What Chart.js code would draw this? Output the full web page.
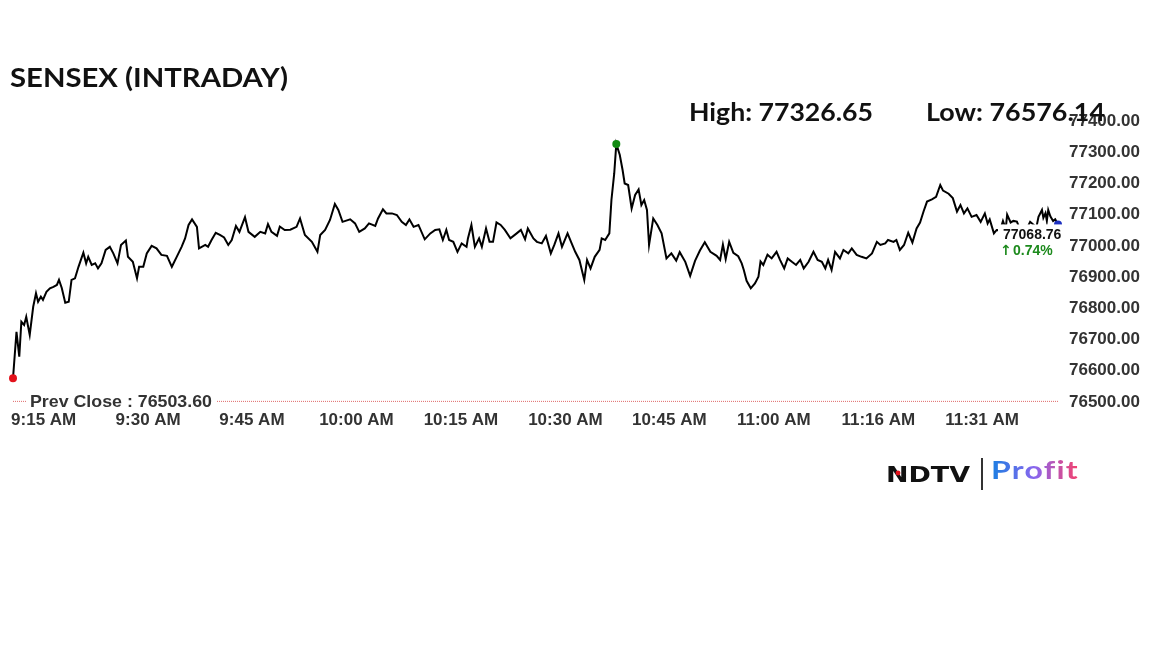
<!DOCTYPE html>
<html>
<head>
<meta charset="utf-8">
<script src="https://cdn.jsdelivr.net/npm/chart.js@4.4.1/dist/chart.umd.min.js"></script>
<style>
  html, body { margin: 0; padding: 0; background: #fff; }
  canvas { display: block; }
</style>
</head>
<body>
<canvas id="sensexChart" width="1152" height="648"></canvas>
<script>
// minutes after 9:15 AM
const times = [
  0, 0.5, 0.9, 1.2, 1.6, 1.9, 2.4, 2.9, 3.3, 3.6,
  4.0, 4.3, 4.8, 5.3, 5.8, 6.3, 6.6, 7.0, 7.5, 8.0,
  8.4, 8.9, 9.4, 10.1, 10.5, 10.8, 11.3, 11.8, 12.2, 12.7,
  13.3, 13.9, 14.4, 15.0, 15.5, 16.2, 16.5, 17.2, 17.8, 18.1,
  18.7, 19.2, 19.9, 20.6, 21.3, 22.1, 22.8, 23.5, 24.2, 24.7,
  25.2, 25.7, 26.4, 26.7, 27.6, 28.0, 28.5, 29.1, 29.7, 30.3,
  30.9, 31.4, 32.0, 32.5, 33.3, 33.8, 34.7, 35.5, 36.2, 36.6,
  37.1, 37.9, 38.3, 39.0, 39.8, 40.7, 41.2, 41.9, 42.9, 43.7,
  44.1, 44.8, 45.5, 46.2, 46.7, 47.3, 48.4, 49.1, 49.7, 50.5,
  51.1, 52.0, 52.4, 53.1, 53.6, 54.4, 55.1, 55.8, 56.4, 56.9,
  57.5, 58.2, 59.1, 59.9, 60.6, 61.2, 61.7, 62.2, 62.6, 63.2,
  63.8, 64.4, 65.1, 65.3, 65.8, 66.3, 66.9, 67.3, 67.9, 68.4,
  68.9, 69.4, 70.0, 70.6, 71.4, 72.3, 72.9, 73.5, 73.9, 74.7,
  75.2, 75.9, 76.5, 77.2, 77.7, 78.3, 78.8, 79.6, 80.1, 80.7,
  81.3, 82.0, 82.4, 82.9, 83.5, 84.2, 84.5, 85.0, 85.6, 85.9,
  86.3, 86.6, 87.1, 87.5, 87.8, 88.3, 88.8, 89.3, 89.8, 90.2,
  90.6, 91.0, 91.3, 91.9, 92.5, 93.1, 93.8, 94.5, 95.2, 95.7,
  96.5, 97.2, 97.9, 98.6, 99.3, 100.1, 101.0, 101.5, 101.9, 102.3,
  102.8, 103.4, 104.1, 104.6, 104.9, 105.3, 105.9, 106.5, 107.0, 107.3,
  107.7, 108.3, 108.9, 109.6, 110.1, 110.7, 111.2, 111.8, 112.4, 113.0,
  113.5, 114.2, 114.9, 115.5, 116.1, 116.6, 117.0, 117.5, 118.0, 118.7,
  119.2, 119.9, 120.4, 121.1, 121.8, 122.5, 123.3, 124.0, 124.5, 125.2,
  125.6, 126.4, 126.8, 127.3, 127.9, 128.5, 129.1, 129.7, 130.2, 130.7,
  131.2, 131.9, 132.5, 133.1, 133.5, 134.3, 134.9, 135.5, 136.0, 136.5,
  137.0, 137.6, 138.3, 138.9, 139.5, 139.9, 140.2, 140.8, 141.2, 141.7,
  142.1, 142.5, 142.7, 143.2, 143.6, 144.1, 144.6, 145.3, 146.0, 146.9,
  147.2, 147.7, 147.9, 148.2, 148.4, 148.6, 148.9, 149.3, 149.6, 150.0
];

const sensex = [
  76576.14, 76725, 76645, 76757, 76747, 76773, 76715, 76805, 76848, 76821,
  76837, 76827, 76853, 76864, 76869, 76875, 76891, 76865, 76818, 76821,
  76891, 76896, 76933, 76978, 76944, 76965, 76939, 76944, 76928, 76944,
  76987, 76997, 76976, 76944, 77003, 77017, 76965, 76949, 76896, 76933,
  76933, 76976, 77000, 76992, 76971, 76968, 76933, 76965, 76997, 77024,
  77067, 77085, 77061, 76992, 77003, 76997, 77019, 77042, 77035, 77027,
  77003, 77019, 77064, 77045, 77092, 77045, 77029, 77045, 77040, 77070,
  77045, 77032, 77062, 77051, 77052, 77061, 77088, 77035, 77013, 76981,
  77035, 77051, 77083, 77134, 77115, 77077, 77085, 77072, 77045, 77056,
  77072, 77064, 77088, 77117, 77104, 77104, 77099, 77077, 77067, 77085,
  77061, 77067, 77021, 77040, 77051, 77053, 77019, 77051, 77019, 77013,
  76981, 77008, 76997, 77024, 77067, 76997, 77024, 76997, 77056, 77013,
  77013, 77075, 77067, 77051, 77024, 77040, 77051, 77021, 77056, 77024,
  77013, 77008, 77032, 76976, 77003, 77040, 76997, 77040, 77013, 76981,
  76955, 76891, 76955, 76928, 76965, 76987, 77024, 77019, 77040, 77147,
  77232, 77326.65, 77291, 77243, 77200, 77195, 77120, 77163, 77181, 77131,
  77147, 77115, 77003, 77088, 77067, 77040, 76960, 76976, 76953, 76980,
  76949, 76904, 76952, 76985, 77012, 76981, 76968, 76955, 77004, 76958,
  77013, 76978, 76967, 76944, 76923, 76888, 76864, 76880, 76901, 76950,
  76939, 76972, 76960, 76981, 76955, 76928, 76960, 76949, 76939, 76955,
  76928, 76949, 76981, 76955, 76949, 76928, 76955, 76923, 76981, 76960,
  76987, 76976, 76992, 76971, 76965, 76960, 76976, 77013, 77003, 77008,
  77019, 77013, 77019, 76987, 77003, 77042, 77011, 77056, 77075, 77110,
  77142, 77149, 77157, 77195, 77177, 77167, 77153, 77110, 77131, 77104,
  77120, 77093, 77099, 77077, 77104, 77072, 77085, 77040, 77051, 77050,
  77080, 77055, 77100, 77075, 77080, 77078, 77050, 77045, 77077, 77060,
  77093, 77115, 77090, 77105, 77080, 77115, 77095, 77080, 77085, 77068.76
];

// подписи оси времени (позиции в минутах от 9:15)
const xTickMinutes = [4.4, 19.4, 34.3, 49.3, 64.3, 79.3, 94.2, 109.2, 124.2, 139.1];
const xTickLabels = ['9:15 AM', '9:30 AM', '9:45 AM', '10:00 AM', '10:15 AM', '10:30 AM', '10:45 AM', '11:00 AM', '11:16 AM', '11:31 AM'];

const prevClose = 76503.60;
const dayHigh = 77326.65;
const dayLow = 76576.14;
const changePct = 0.74;

const lastIdx = sensex.length - 1;
const highIdx = sensex.indexOf(Math.max(...sensex));

// рисуем текст, подгоняя ширину под нужную
function fitText(ctx, text, x, y, width, makeFill) {
    const w = ctx.measureText(text).width;
    ctx.save();
    ctx.translate(x, y);
    ctx.scale(width / w, 1);
    if (makeFill) ctx.fillStyle = makeFill(w);
    ctx.fillText(text, 0, 0);
    ctx.restore();
}

const overlay = {
    id: 'overlay',
    beforeDatasetsDraw(chart) {
        const { ctx, chartArea, scales } = chart;
        const y = scales.y.getPixelForValue(prevClose);
        ctx.save();
        // линия предыдущего закрытия
        ctx.strokeStyle = '#e06a6a';
        ctx.lineWidth = 1;
        ctx.setLineDash([1, 1]);
        ctx.beginPath();
        ctx.moveTo(chartArea.left, y + 0.5);
        ctx.lineTo(chartArea.right, y + 0.5);
        ctx.stroke();
        ctx.setLineDash([]);
        const txt = 'Prev Close : ' + prevClose.toFixed(2);
        ctx.font = 'bold 17px "Liberation Sans"';
        ctx.fillStyle = '#fff';
        ctx.fillRect(chartArea.left + 14, y - 9, 190, 19);
        ctx.fillStyle = '#333';
        ctx.textBaseline = 'middle';
        fitText(ctx, txt, chartArea.left + 17, y + 1, 182);
        ctx.restore();
    },
    afterDatasetsDraw(chart) {
        const { ctx, scales } = chart;
        const x = scales.x.getPixelForValue(times[lastIdx]);
        const y = scales.y.getPixelForValue(sensex[lastIdx]);
        ctx.save();
        ctx.fillStyle = '#fff';
        ctx.fillRect(x - 60, y, 72, 38);
        ctx.textBaseline = 'middle';
        ctx.font = 'bold 14px "Liberation Sans"';
        ctx.fillStyle = '#111';
        ctx.fillText(sensex[lastIdx].toFixed(2), x - 55, y + 11);
        ctx.fillStyle = '#1d8a1d';
        ctx.font = 'bold 14px "DejaVu Sans"';
        ctx.fillText('\u2191', x - 58, y + 27);
        ctx.font = 'bold 14px "Liberation Sans"';
        ctx.fillText(changePct.toFixed(2) + '%', x - 45, y + 27);
        ctx.restore();
    },
    afterDraw(chart) {
        const ctx = chart.ctx;
        ctx.save();
        ctx.textBaseline = 'alphabetic';
        ctx.fillStyle = '#111';
        ctx.font = 'bold 27px Lato';
        fitText(ctx, 'SENSEX (INTRADAY)', 10, 87, 278);
        ctx.font = 'bold 24px Lato';
        fitText(ctx, 'High: ' + dayHigh.toFixed(2), 689, 121, 184);
        fitText(ctx, 'Low: ' + dayLow.toFixed(2), 926, 121, 179);

        // логотип
        ctx.font = 'bold 21px "DejaVu Sans"';
        ctx.fillStyle = '#111';
        fitText(ctx, 'NDTV', 886, 482, 84);
        ctx.fillStyle = '#e3121b';
        ctx.beginPath();
        ctx.arc(898, 473, 2.4, 0, Math.PI * 2);
        ctx.fill();
        ctx.strokeStyle = '#333';
        ctx.lineWidth = 2;
        ctx.beginPath();
        ctx.moveTo(982, 458);
        ctx.lineTo(982, 490);
        ctx.stroke();
        ctx.font = 'bold 25px Lato';
        ctx.letterSpacing = '1px';
        fitText(ctx, 'Profit', 991, 479, 88, w => {
            const grad = ctx.createLinearGradient(0, 0, w, 0);
            grad.addColorStop(0, '#1a7fe2');
            grad.addColorStop(0.5, '#8a66ee');
            grad.addColorStop(1, '#f5416c');
            return grad;
        });
        ctx.letterSpacing = '0px';
        ctx.restore();
    }
};

const tickFont = { family: 'Liberation Sans', size: 17, weight: 'bold' };

const ctx = document.getElementById('sensexChart').getContext('2d');
const sensexChart = new Chart(ctx, {
    type: 'line',
    data: {
        datasets: [{
            data: times.map((t, i) => ({ x: t, y: sensex[i] })),
            borderColor: '#000',
            borderWidth: 2,
            tension: 0,
            clip: false,
            pointRadius: c => (c.dataIndex === 0 || c.dataIndex === highIdx || c.dataIndex === lastIdx) ? 4 : 0,
            pointHoverRadius: 0,
            pointBorderWidth: 0,
            pointBackgroundColor: c => c.dataIndex === 0 ? '#e3121b' : (c.dataIndex === highIdx ? '#128a12' : '#1c2fc0')
        }]
    },
    options: {
        responsive: false,
        animation: false,
        layout: { padding: { left: 13, top: 121, right: 0, bottom: 0 } },
        plugins: { legend: { display: false }, tooltip: { enabled: false } },
        scales: {
            x: {
                type: 'linear',
                min: 0,
                max: 150,
                grid: { display: false, drawTicks: false },
                border: { display: false },
                afterBuildTicks: s => { s.ticks = xTickMinutes.map(v => ({ value: v })); },
                afterFit: s => { s.height = 246; },
                ticks: {
                    padding: 8,
                    maxRotation: 0,
                    autoSkip: false,
                    color: '#333',
                    font: tickFont,
                    callback: (v, i) => xTickLabels[i]
                }
            },
            y: {
                position: 'right',
                min: 76500,
                max: 77400,
                grid: { display: false, drawTicks: false },
                border: { display: false },
                afterFit: s => { s.width = 94; },
                ticks: {
                    stepSize: 100,
                    padding: 11,
                    color: '#333',
                    font: tickFont,
                    callback: v => v.toFixed(2)
                }
            }
        }
    },
    plugins: [overlay]
});
</script>
</body>
</html>
